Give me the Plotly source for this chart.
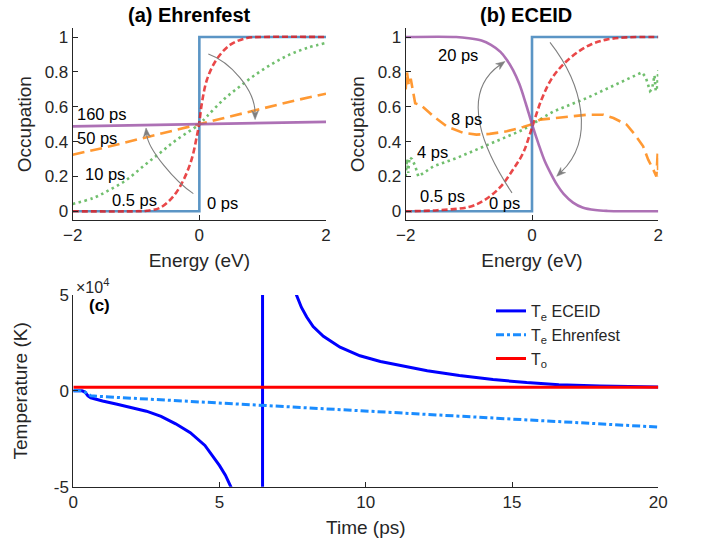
import math
import plotly.graph_objects as go

# ---------------- data ----------------
# Panel (a) Ehrenfest occupations vs energy (eV)
E_step = [-2, 0, 0, 2]
f_step = [0, 0, 1, 1]

E_a05 = [-2.0, -1.0, -0.83, -0.62, -0.41, -0.25, -0.12, -0.04, 0.0, 0.04, 0.12, 0.27, 0.49, 0.75, 1.0, 2.0]
f_a05 = [0.0, 0.0, 0.003, 0.02, 0.086, 0.18, 0.30, 0.43, 0.51, 0.62, 0.755, 0.87, 0.956, 0.994, 1.0, 1.0]

E_a10 = [-2.0, -1.67, -1.41, -1.15, -0.88, -0.62, -0.36, 0.0, 0.12, 0.38, 0.64, 0.91, 1.17, 1.43, 1.70, 2.0]
f_a10 = [0.042, 0.077, 0.124, 0.18, 0.26, 0.335, 0.41, 0.5, 0.545, 0.64, 0.717, 0.79, 0.85, 0.90, 0.937, 0.966]

E_a50 = [-2.0, -1.5, -1.0, -0.5, 0.0, 0.5, 1.0, 1.5, 2.0]
f_a50 = [0.325, 0.365, 0.41, 0.455, 0.5, 0.545, 0.59, 0.635, 0.675]

E_a160 = [-2.0, 0.0, 2.0]
f_a160 = [0.487, 0.5, 0.513]

# Panel (b) ECEID occupations vs energy (eV)
E_b05 = [-2.0, -1.5, -1.0, -0.75, -0.5, -0.3, -0.14, 0.0, 0.15, 0.31, 0.5, 0.73, 0.95, 1.18, 1.5, 2.0]
f_b05 = [0.0, 0.006, 0.025, 0.065, 0.14, 0.24, 0.335, 0.48, 0.64, 0.76, 0.845, 0.915, 0.96, 0.985, 0.998, 1.0]

E_b4 = [-2.0, -1.98, -1.96, -1.94, -1.9, -1.85, -1.8, -1.56, -1.19, -0.82, -0.45, -0.14, 0.0, 0.34, 0.87, 1.39, 1.74,
        1.8, 1.87, 1.9, 1.94, 1.96, 1.98, 2.0]
f_b4 = [0.2, 0.3, 0.22, 0.31, 0.3, 0.26, 0.2, 0.258, 0.306, 0.364, 0.42, 0.468, 0.5, 0.573, 0.65, 0.736, 0.797,
        0.77, 0.69, 0.7, 0.78, 0.69, 0.7, 0.81]

E_b8 = [-2.0, -1.98, -1.95, -1.92, -1.85, -1.75, -1.56, -1.35, -1.09, -0.88, -0.67, -0.40, -0.14, 0.0, 0.13, 0.34,
        0.6, 0.87, 1.13, 1.29, 1.5, 1.63, 1.76, 1.84, 1.92, 1.97, 1.99, 2.0]
f_b8 = [0.7, 0.8, 0.72, 0.76, 0.62, 0.606, 0.545, 0.487, 0.45, 0.44, 0.444, 0.459, 0.484, 0.5, 0.526, 0.535,
        0.545, 0.554, 0.554, 0.535, 0.497, 0.44, 0.373, 0.296, 0.24, 0.2, 0.335, 0.2]

E_b20 = [-2.0, -1.2, -1.0, -0.8, -0.65, -0.5, -0.4, -0.3, -0.2, -0.1, 0.0, 0.1, 0.2, 0.3, 0.4, 0.5, 0.65, 0.8,
         1.0, 1.2, 2.0]
f_b20 = [1.0, 1.0, 0.993, 0.98, 0.955, 0.915, 0.87, 0.81, 0.73, 0.62, 0.5, 0.39, 0.29, 0.215, 0.15, 0.1, 0.05,
         0.022, 0.007, 0.002, 0.0]

# Panel (c) temperatures vs time (ps)
t_eceid = [0, 0.3, 0.4, 0.5, 0.6, 0.8, 1.0, 1.5, 2.0, 2.5, 3.0, 3.5, 4.0, 4.5, 5.0, 5.2, 5.4, 5.8, 6.2, 6.47,
           6.47, 6.8, 7.2, 7.63, 7.8, 7.98, 8.2, 8.55, 9.12, 9.8, 10.5, 11.3, 12.1, 13.2, 14.35, 15.5, 16.6,
           18.0, 19.0, 20.0]
T_eceid = [0, 0, -600, -2600, -3600, -4500, -5300, -7000, -8600, -10600, -13300, -17200, -21800, -28500, -39000,
           -44000, -50500, -75000, -150000, -1000000,
           1000000, 150000, 80000, 50000, 43500, 38500, 33500, 28500, 22800, 18300, 15300, 12700, 10500, 8000,
           5900, 4300, 3200, 2500, 2150, 1950]

t_ehr = [0, 0.3, 0.4, 0.5, 0.6, 1.0, 5.0, 10.0, 15.0, 20.0]
T_ehr = [0, 0, -700, -1900, -2600, -3000, -6400, -10600, -14700, -18900]

t_o = [0, 20]
T_o = [1900, 1900]

# ---------------- style ----------------
W, H = 705, 540


def P(x_px):
    return x_px / W


def Q(y_px):
    return 1 - y_px / H


FONT = "Liberation Sans"
INK = "#262626"
C_BLUE = "rgba(55,126,184,0.82)"
C_RED = "rgba(228,26,28,0.8)"
C_GREEN = "rgba(77,175,74,0.8)"
C_ORANGE = "rgba(255,127,0,0.8)"
C_PURPLE = "rgba(152,78,163,0.8)"
ARROW = "#7f7f7f"

DOM_XA = [P(72.7), P(326)]
DOM_XB = [P(405.7), P(658.3)]
DOM_XC = [P(73.3), P(658.3)]
DOM_YAB = [Q(220), Q(28.3)]
DOM_YC = [Q(486.7), Q(295)]
RX = [-2, 2]
RY = [-0.05, 1.05]

fig = go.Figure()


def occ_traces(xa, ya, series):
    for x, y, color, dash, shape in series:
        fig.add_trace(go.Scatter(x=x, y=y, mode="lines", xaxis=xa, yaxis=ya, showlegend=False,
                                 line=dict(color=color, width=2.6, dash=dash, shape=shape), hoverinfo="skip"))


occ_traces("x", "y", [
    (E_step, f_step, C_BLUE, "solid", "linear"),
    (E_a05, f_a05, C_RED, "6px,3px", "spline"),
    (E_a10, f_a10, C_GREEN, "2.5px,3.5px", "spline"),
    (E_a50, f_a50, C_ORANGE, "12px,6px", "linear"),
    (E_a160, f_a160, C_PURPLE, "solid", "linear"),
])
occ_traces("x2", "y2", [
    (E_step, f_step, C_BLUE, "solid", "linear"),
    (E_b05, f_b05, C_RED, "6px,3px", "spline"),
    (E_b4, f_b4, C_GREEN, "2.5px,3.5px", "linear"),
    (E_b8, f_b8, C_ORANGE, "12px,6px", "linear"),
    (E_b20, f_b20, C_PURPLE, "solid", "spline"),
])

fig.add_trace(go.Scatter(x=t_eceid, y=T_eceid, mode="lines", xaxis="x3", yaxis="y3",
                         name="T<sub>e</sub> ECEID", line=dict(color="#0000ff", width=3)))
fig.add_trace(go.Scatter(x=t_ehr, y=T_ehr, mode="lines", xaxis="x3", yaxis="y3",
                         name="T<sub>e</sub> Ehrenfest", line=dict(color="#1a8cff", width=3, dash="8px,3px,3px,3px")))
fig.add_trace(go.Scatter(x=t_o, y=T_o, mode="lines", xaxis="x3", yaxis="y3",
                         name="T<sub>o</sub>", line=dict(color="#ff0000", width=3)))

axis_common = dict(showline=True, linecolor=INK, linewidth=1, ticks="inside", ticklen=5, tickcolor=INK,
                   showgrid=False, zeroline=False, mirror=False, automargin=False,
                   tickfont=dict(family=FONT, size=17, color=INK))
title_font = dict(family=FONT, size=19, color=INK)
occ_ticks = dict(tickvals=[0, 0.2, 0.4, 0.6, 0.8, 1], ticktext=["0", "0.2", "0.4", "0.6", "0.8", "1"])

fig.update_layout(
    template="none",
    width=W, height=H, margin=dict(l=0, r=0, t=0, b=0),
    paper_bgcolor="white", plot_bgcolor="white",
    font=dict(family=FONT, color=INK),
    hovermode=False,
    xaxis=dict(domain=DOM_XA, range=RX, tickvals=[-2, 0, 2], anchor="y",
               title=dict(text="Energy (eV)", font=title_font, standoff=9), **axis_common),
    yaxis=dict(domain=DOM_YAB, range=RY, anchor="x", **occ_ticks,
               title=dict(text="Occupation", font=title_font, standoff=7), **axis_common),
    xaxis2=dict(domain=DOM_XB, range=RX, tickvals=[-2, 0, 2], anchor="y2",
                title=dict(text="Energy (eV)", font=title_font, standoff=9), **axis_common),
    yaxis2=dict(domain=DOM_YAB, range=RY, anchor="x2", **occ_ticks,
                title=dict(text="Occupation", font=title_font, standoff=7), **axis_common),
    xaxis3=dict(domain=DOM_XC, range=[0, 20], tickvals=[0, 5, 10, 15, 20], anchor="y3",
                title=dict(text="Time (ps)", font=title_font, standoff=9), **axis_common),
    yaxis3=dict(domain=DOM_YC, range=[-50000, 50000], tickvals=[-50000, 0, 50000],
                ticktext=["-5", "0", "5"], anchor="x3",
                title=dict(text="Temperature (K)", font=title_font, standoff=21), **axis_common),
    legend=dict(x=P(491), y=Q(294), xanchor="left", yanchor="top", bgcolor="rgba(0,0,0,0)",
                font=dict(family=FONT, size=16, color=INK), tracegroupgap=0),
)

annotations = []
annotations.append(dict(text="<b>(a) Ehrenfest</b>", x=P(189), y=Q(15), xref="paper", yref="paper",
                        xanchor="center", yanchor="middle", showarrow=False,
                        font=dict(family=FONT, size=20, color="black")))
annotations.append(dict(text="<b>(b) ECEID</b>", x=P(526), y=Q(15), xref="paper", yref="paper",
                        xanchor="center", yanchor="middle", showarrow=False,
                        font=dict(family=FONT, size=20, color="black")))
annotations.append(dict(text="<b>(c)</b>", x=P(87), y=Q(305), xref="paper", yref="paper",
                        showarrow=False, xanchor="left", yanchor="middle",
                        font=dict(family=FONT, size=17, color="black")))
annotations.append(dict(text="\u00d710<sup>4</sup>", x=P(74), y=DOM_YC[1], xref="paper", yref="paper",
                        showarrow=False, xanchor="left", yanchor="bottom", yshift=-3,
                        font=dict(family=FONT, size=16, color=INK)))

lab_font = dict(family=FONT, size=16.5, color="black")
labels_a = [("160 ps", -1.54, 0.56), ("50 ps", -1.62, 0.42), ("10 ps", -1.49, 0.216),
            ("0.5 ps", -1.03, 0.063), ("0 ps", 0.36, 0.048)]
labels_b = [("20 ps", -1.164, 0.898), ("8 ps", -1.03, 0.53), ("4 ps", -1.58, 0.338),
            ("0.5 ps", -1.425, 0.086), ("0 ps", -0.435, 0.048)]
for txt, x, y in labels_a:
    annotations.append(dict(text=txt, x=x, y=y, xref="x", yref="y", showarrow=False, font=lab_font))
for txt, x, y in labels_b:
    annotations.append(dict(text=txt, x=x, y=y, xref="x2", yref="y2", showarrow=False, font=lab_font))

# Curved arrows (cubic Bezier control points in data coordinates)
arrows = [
    ("x", "y", DOM_XA, (-0.0948, 0.1015), (-0.384, 0.170), (-0.810, 0.354), (-0.842, 0.478)),
    ("x", "y", DOM_XA, (0.142, 0.9025), (0.485, 0.858), (0.88, 0.698), (0.88, 0.526)),
    ("x2", "y2", DOM_XB, (-0.317, 0.1055), (-0.744, 0.339), (-1.172, 0.669), (-0.428, 0.860)),
    ("x2", "y2", DOM_XB, (0.285, 0.969), (0.808, 0.7265), (0.998, 0.411), (0.391, 0.2007)),
]
sy = (DOM_YAB[1] - DOM_YAB[0]) * H / (RY[1] - RY[0])
HEAD_L, HEAD_W = 9.0, 7.0
shapes = []
for xr, yr, dom, p0, c1, c2, p2 in arrows:
    sx = (dom[1] - dom[0]) * W / (RX[1] - RX[0])
    dx, dy = (p2[0] - c2[0]) * sx, (p2[1] - c2[1]) * sy
    n = math.hypot(dx, dy)
    ux, uy = dx / n, dy / n
    bx, by = -ux * HEAD_L, -uy * HEAD_L
    lx, ly = bx - uy * HEAD_W / 2, by + ux * HEAD_W / 2
    rx, ry = bx + uy * HEAD_W / 2, by - ux * HEAD_W / 2
    nx, ny = -ux * HEAD_L * 0.7, -uy * HEAD_L * 0.7
    endx, endy = p2[0] + nx / sx, p2[1] + ny / sy
    path = f"M {p0[0]},{p0[1]} C {c1[0]},{c1[1]} {c2[0]},{c2[1]} {endx},{endy}"
    shapes.append(dict(type="path", path=path, xref=xr, yref=yr, line=dict(color=ARROW, width=1.1)))
    head = (f"M {p2[0]},{p2[1]} L {p2[0] + lx / sx},{p2[1] + ly / sy} "
            f"L {endx},{endy} L {p2[0] + rx / sx},{p2[1] + ry / sy} Z")
    shapes.append(dict(type="path", path=head, xref=xr, yref=yr, fillcolor=ARROW,
                       line=dict(color=ARROW, width=0.5)))

fig.update_layout(annotations=annotations, shapes=shapes)
# remove the browser's default 8px body margin so the figure sits at the window origin
fig.write_html("out.html", config={"displayModeBar": False, "staticPlot": True},
               post_script="document.body.style.margin='0';document.body.style.overflow='hidden';")
